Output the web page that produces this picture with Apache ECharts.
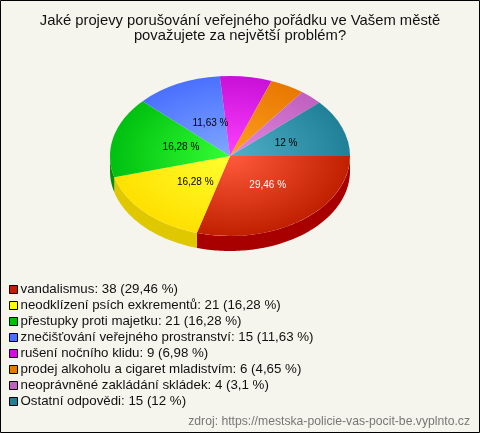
<!DOCTYPE html>
<html><head><meta charset="utf-8">
<style>html,body{margin:0;padding:0;background:#f5f5ee}#c{width:480px;height:433px}</style>
<script src="https://cdn.jsdelivr.net/npm/echarts@6/dist/echarts.min.js"></script>
</head><body><div id="c"></div>
<script>
const categories = ['vandalismus','neodklízení psích exkrementů','přestupky proti majetku','znečišťování veřejného prostranství','rušení nočního klidu','prodej alkoholu a cigaret mladistvím','neoprávněné zakládání skládek','Ostatní odpovědi'];
const values = [38,21,21,15,9,6,4,15];
const percentText = ['29,46 %','16,28 %','16,28 %','11,63 %','6,98 %','4,65 %','3,1 %','12 %'];
const sliceLabels = ['29,46 %','16,28 %','16,28 %','11,63 %','','','','12 %'];
const legendColors = ['#c02000','#ffff00','#00c000','#4870ff','#d010e0','#e87800','#c060c0','#208098'];
const innerColors = ['#ff5a3c','#ffff30','#33ff33','#80a8ff','#ff40ff','#ffa020','#e088e0','#50b0c8'];
const rimColors = ['#c02000','#ffe000','#00c010','#4a70ff','#c810d8','#e87800','#c060c0','#208098'];
const sideColors = ['#a80000','#e0c800','#0a8a00','#3050c0','#a000a0','#b06000','#905090','#105870'];
const labelColors = ['#fff','#000','#000','#000','#000','#000','#000','#000'];
const DEPTH = 15;

const total = values.reduce((a,b)=>a+b,0);
let acc = 0;
const ranges = values.map(v=>{const r=[acc/total*Math.PI*2,(acc+v)/total*Math.PI*2];acc+=v;return r;});

function render(i){
  return function(params, api){
    const a0 = api.value(0), a1 = api.value(1);
    const c = api.coord([0,0]);
    const rx = api.size([1,0])[0], ry = api.size([0,1])[1];
    const children = [];
    const s0 = Math.max(a0,0), s1 = Math.min(a1,Math.PI);
    if (s1 > s0) {
      const top=[], bottom=[];
      const n = Math.max(2,Math.ceil((s1-s0)/0.02));
      for(let k=0;k<=n;k++){
        const t = s0+(s1-s0)*k/n;
        const p = api.coord([Math.cos(t),Math.sin(t)]);
        top.push(p); bottom.unshift([p[0],p[1]+DEPTH]);
      }
      children.push({type:'polygon',z2:1,shape:{points:top.concat(bottom)},style:{fill:sideColors[i]}});
    }
    children.push({type:'sector',z2:10,originX:c[0],originY:c[1],scaleY:ry/rx,
      shape:{cx:c[0],cy:c[1],r:rx,r0:0,startAngle:a0,endAngle:a1,clockwise:true},
      style:{fill:{type:'radial',x:c[0],y:c[1],r:rx,global:true,
        colorStops:[{offset:0,color:innerColors[i]},{offset:1,color:rimColors[i]}]}}});
    if (sliceLabels[i]) {
      const m=(a0+a1)/2, p=api.coord([0.46*Math.cos(m),0.46*Math.sin(m)]);
      children.push({type:'text',z2:20,x:p[0]+4.5,y:p[1],style:{text:sliceLabels[i],fill:labelColors[i],
        font:'10px "Liberation Sans"',align:'center',verticalAlign:'middle'}});
    }
    return {type:'group',children};
  };
}

const series = categories.map((name,i)=>({
  type:'custom',
  name:`${name}: ${values[i]} (${percentText[i]})`,
  coordinateSystem:'cartesian2d',
  clip:false,silent:true,animation:false,
  itemStyle:{color:legendColors[i]},
  renderItem:render(i),
  data:[ranges[i]],
  encode:{x:0,y:1}
}));

const chart = echarts.init(document.getElementById('c'),null,{renderer:'canvas'});
chart.setOption({
  animation:false,
  backgroundColor:'#f5f5ee',
  title:[
    {text:'Jaké projevy porušování veřejného pořádku ve Vašem městě\npovažujete za největší problém?',
     left:240,top:13,padding:0,textAlign:'center',
     textStyle:{fontFamily:'Liberation Sans',fontSize:14.8,fontWeight:'normal',color:'#111',lineHeight:15,align:'center'}},
    {text:'zdroj: https://mestska-policie-vas-pocit-be.vyplnto.cz',right:10,top:416,padding:0,
     textStyle:{fontFamily:'Liberation Sans',fontSize:12.2,fontWeight:'normal',color:'#777'}}
  ],
  grid:{left:110,width:240,top:76,height:160},
  xAxis:{type:'value',min:-1,max:1,show:false},
  yAxis:{type:'value',min:-1,max:1,inverse:true,show:false},
  legend:{orient:'vertical',left:9,top:283,itemWidth:8,itemHeight:8,itemGap:3,icon:'rect',
    selectedMode:false,padding:0,
    itemStyle:{borderColor:'#000',borderWidth:1},
    textStyle:{fontFamily:'Liberation Sans',fontSize:13.3,color:'#111',padding:[0,0,0,-2]},
    data:series.map(s=>s.name)},
  series,
  graphic:[{type:'rect',silent:true,z:100,shape:{x:0.5,y:0.5,width:479,height:432},style:{fill:null,stroke:'#000',lineWidth:1}}]
});
</script></body></html>
